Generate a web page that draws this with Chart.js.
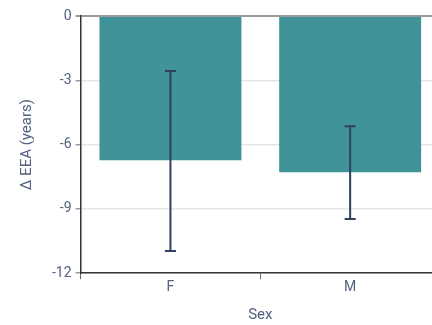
<!DOCTYPE html>
<html>
<head>
<meta charset="utf-8">
<script src="https://cdn.jsdelivr.net/npm/chart.js@4"></script>
<style>
  html, body { margin: 0; padding: 0; overflow: hidden; background: #fff; }
  #wrap { width: 440px; height: 325px; }
</style>
</head>
<body>
<div id="wrap"><canvas id="eeaChart"></canvas></div>
<script>
// data
const sexes = ['F', 'M'];
const meanDelta = [-6.73, -7.29];
const errUpper = [-2.57, -5.14];
const errLower = [-10.96, -9.47];
const yTicks = [0, -3, -6, -9, -12];

const textColor = '#52617f';

// simple error bar plugin, uses the chart's own scales
const errorBars = {
    id: 'errorBars',
    afterDatasetsDraw(chart) {
        const ctx = chart.ctx;
        const xs = chart.scales.x;
        const ys = chart.scales.y;
        ctx.save();
        ctx.strokeStyle = '#2f4060';
        ctx.lineWidth = 2;
        sexes.forEach(function(s, i) {
            const x = xs.getPixelForValue(i);
            const yTop = ys.getPixelForValue(errUpper[i]);
            const yBot = ys.getPixelForValue(errLower[i]);
            ctx.beginPath();
            ctx.moveTo(x, yTop);
            ctx.lineTo(x, yBot);
            ctx.moveTo(x - 5.5, yTop);
            ctx.lineTo(x + 5.5, yTop);
            ctx.moveTo(x - 5.5, yBot);
            ctx.lineTo(x + 5.5, yBot);
            ctx.stroke();
        });
        ctx.restore();
    }
};

new Chart(document.getElementById('eeaChart'), {
    type: 'bar',
    data: {
        labels: sexes,
        datasets: [{
            data: meanDelta,
            backgroundColor: '#3f9399',
            borderWidth: 0,
            categoryPercentage: 0.79,
            barPercentage: 1
        }]
    },
    options: {
        responsive: true,
        maintainAspectRatio: false,
        animation: false,
        layout: { padding: { top: 16, right: 0, left: 14, bottom: 1 } },
        plugins: { legend: { display: false }, tooltip: { enabled: false } },
        scales: {
            x: {
                grid: { offset: true, drawOnChartArea: false, drawTicks: true, tickLength: 6, tickColor: '#666' },
                border: { color: '#333', width: 1.5 },
                ticks: { color: textColor, font: { family: 'Roboto', size: 14 }, padding: 0 },
                title: { display: true, text: 'Sex', color: textColor, font: { family: 'Roboto', size: 15 }, padding: { top: 10, bottom: 0 } }
            },
            y: {
                min: -12,
                max: 0,
                afterBuildTicks: function(axis) {
                    axis.ticks = yTicks.map(v => ({ value: v }));
                },
                grid: {
                    color: ctx => ctx.tick && ctx.tick.value === 0 ? '#9a9a9a' : '#e6e6e6',
                    lineWidth: ctx => ctx.tick && ctx.tick.value === 0 ? 2 : 1.5,
                    tickColor: '#999',
                    tickLength: 5
                },
                border: { color: '#333', width: 1.5 },
                ticks: { color: textColor, font: { family: 'Roboto', size: 14 }, padding: 4 },
                title: { display: true, text: 'Δ EEA (years)', color: textColor, font: { family: 'Roboto', size: 15 }, padding: { bottom: 12 } }
            }
        }
    },
    plugins: [errorBars]
});
</script>
</body>
</html>
